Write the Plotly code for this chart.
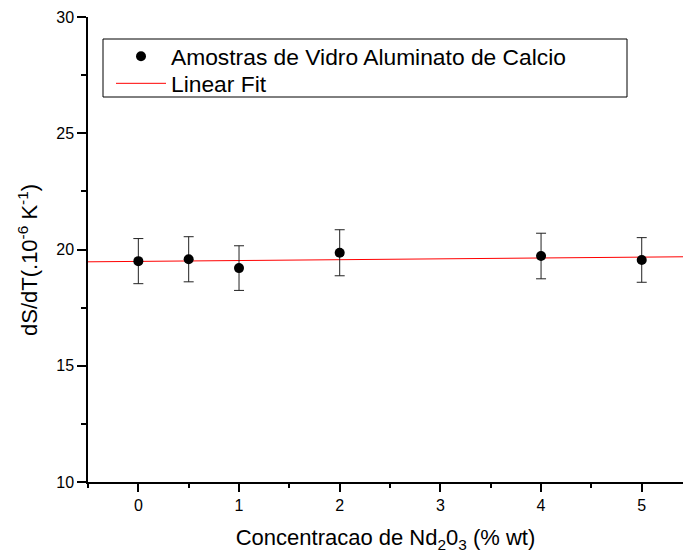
import plotly.graph_objects as go

# Data
conc = [0, 0.5, 1, 2, 4, 5]
dsdt = [19.50, 19.58, 19.20, 19.86, 19.72, 19.55]
err = [0.97, 0.97, 0.96, 0.99, 0.98, 0.96]
fit_x = [-0.5, 5.5]
fit_y = [19.47, 19.69]

x_ticks = [0, 1, 2, 3, 4, 5]
y_ticks = [10, 15, 20, 25, 30]

FONT = "Liberation Sans, Arial, sans-serif"

fig = go.Figure()
fig.add_trace(go.Scatter(
    x=fit_x, y=fit_y, mode="lines", name="Linear Fit",
    line=dict(color="#ff0000", width=1), legend="legend2"))
fig.add_trace(go.Scatter(
    x=conc, y=dsdt, mode="markers", name="Amostras de Vidro Aluminato de Calcio",
    marker=dict(color="black", size=10, symbol="circle"),
    error_y=dict(type="data", array=err, visible=True, color="#222222", thickness=1, width=5),
    legend="legend"))

axis_common = dict(showline=True, linecolor="black", linewidth=1.5, showgrid=False,
                   zeroline=False, tickcolor="black")

L, T, W, H = 88, 17, 595, 465  # plot area in pixels

fig.update_layout(
    width=683, height=556,
    margin=dict(l=L, r=0, t=T, b=556 - T - H),
    paper_bgcolor="white", plot_bgcolor="white",
    font=dict(family=FONT, color="black", size=16),
    xaxis=dict(range=[-0.5, 5.41], tickvals=x_ticks, ticks="outside", ticklen=8, tickwidth=1.5,
               minor=dict(dtick=0.5, tick0=0, ticks="outside", ticklen=4, tickwidth=1.5, tickcolor="black"),
               tickfont=dict(size=16),
               title=dict(text="Concentracao de Nd<sub>2</sub>0<sub>3</sub> (% wt)", font=dict(size=22), standoff=17),
               **axis_common),
    xaxis2=dict(range=[-0.5, 5.41], overlaying="x", side="top", tickvals=x_ticks, ticks="inside",
                ticklen=8, tickwidth=1.5, showticklabels=False,
                minor=dict(dtick=0.5, tick0=0, ticks="inside", ticklen=4, tickwidth=1.5, tickcolor="black"),
                **axis_common),
    yaxis=dict(range=[10, 30], tickvals=y_ticks, ticks="outside", ticklen=9, tickwidth=1.5,
               minor=dict(dtick=2.5, tick0=0, ticks="outside", ticklen=5, tickwidth=1.5, tickcolor="black"),
               tickfont=dict(size=16),
               **axis_common),
    yaxis2=dict(range=[10, 30], overlaying="y", side="right", tickvals=y_ticks, ticks="inside",
                ticklen=2, tickwidth=1.5, showticklabels=False, showline=False, showgrid=False,
                zeroline=False, tickcolor="black"),
    legend=dict(x=(111 - L) / W, y=(T + H - 35) / H, xanchor="left", yanchor="top",
                bgcolor="rgba(0,0,0,0)", borderwidth=0, font=dict(size=22.8), itemwidth=50),
    legend2=dict(x=(111 - L) / W, y=(T + H - 62) / H, xanchor="left", yanchor="top",
                 bgcolor="rgba(0,0,0,0)", borderwidth=0, font=dict(size=22.8), itemwidth=50),
    shapes=[dict(type="rect", xref="paper", yref="paper",
                 x0=(103 - L) / W, x1=(627 - L) / W,
                 y0=(T + H - 97) / H, y1=(T + H - 39) / H,
                 line=dict(color="black", width=1), fillcolor="white", layer="above")],
    annotations=[dict(text="dS/dT(.10<sup>-6</sup> K<sup>-1</sup>)", textangle=-90,
                      xref="paper", yref="paper", x=(28 - L) / W, y=(T + H - 260) / H,
                      xanchor="center", yanchor="middle", showarrow=False,
                      font=dict(size=22))],
    showlegend=True,
)

fig.write_html("out.html", config={"displayModeBar": False},
               post_script="document.body.style.margin='0';document.body.style.overflow='hidden';")
